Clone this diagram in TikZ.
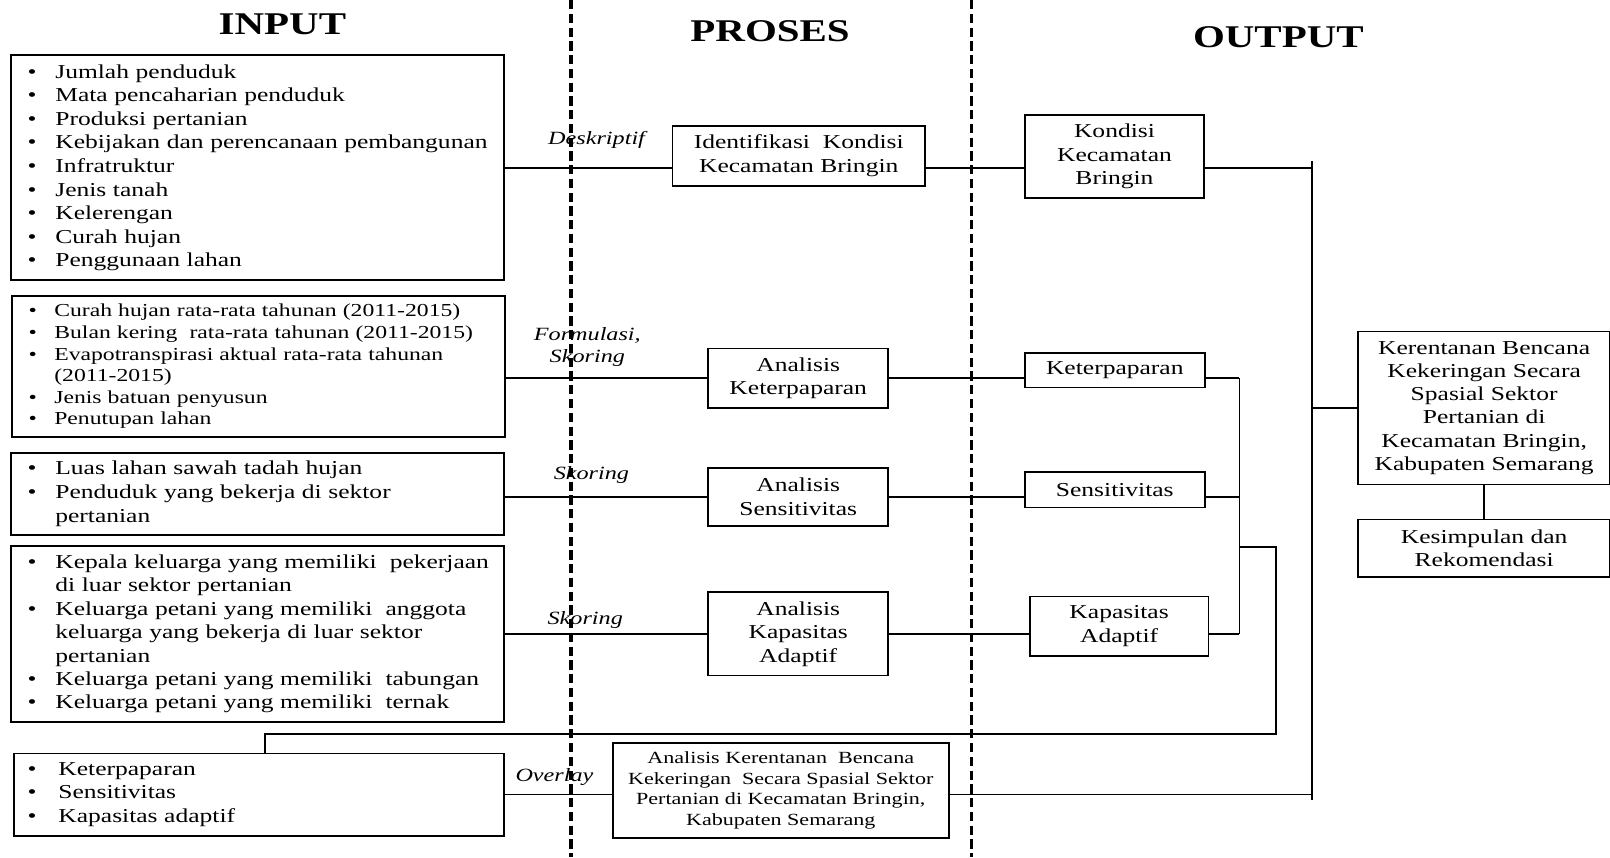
\documentclass[tikz,border=0pt]{standalone}
\usepackage{fontspec}
\setmainfont{Liberation Serif}[FakeStretch=1.295]
\newlength\bw
\newcommand\bl[1]{\mbox{\makebox[\bw][l]{\textbullet}#1}}
\newcommand\cl[1]{\mbox{\hspace*{\bw}#1}}
\begin{document}
\begin{tikzpicture}[x=0.5pt,y=-0.5pt,
  box/.style={draw, line width=0.9pt, anchor=north west, inner sep=0pt, align=center,
    font=\fontsize{9.6}{11.5}\selectfont},
  lstbox/.style={box, align=left},
  conn/.style={line width=0.8pt},
  divider/.style={line width=1.6pt, dash pattern=on 4.5pt off 2.2pt},
  title/.style={font=\fontsize{15.4}{18}\selectfont\bfseries, inner sep=0pt},
  lab/.style={font=\fontsize{9.1}{10.5}\selectfont\itshape, inner sep=0pt, align=center}]
\useasboundingbox (0,0) rectangle (1568,835);

% dividers
\coordinate (d1t) at (556,0); \coordinate (d1b) at (556,835);
\coordinate (d2t) at (946,0); \coordinate (d2b) at (946,835);
\draw[divider] (d1t) -- (d1b);
\draw[divider] (d2t) -- (d2b);

% titles
\node[title] (tin) at (275,24) {INPUT};
\node[title] (tpr) at (750,30) {PROSES};
\node[title] (tout) at (1245,36) {OUTPUT};

% input boxes
\node[lstbox, inner xsep=8pt, text width=224pt, minimum height=109.5pt,
  font=\fontsize{9.6}{11.5}\selectfont\setlength\bw{13.5pt}] (in1) at (10,53) {%
\bl{Jumlah penduduk}\\
\bl{Mata pencaharian penduduk}\\
\bl{Produksi pertanian}\\
\bl{Kebijakan dan perencanaan pembangunan}\\
\bl{Infratruktur}\\
\bl{Jenis tanah}\\
\bl{Kelerengan}\\
\bl{Curah hujan}\\
\bl{Penggunaan lahan}};

\node[lstbox, inner xsep=8pt, text width=224pt, minimum height=69pt,
  font=\fontsize{8.9}{10.5}\selectfont\setlength\bw{12.5pt}] (in2) at (11,287) {%
\bl{Curah hujan rata-rata tahunan (2011-2015)}\\
\bl{Bulan kering\ \ rata-rata tahunan (2011-2015)}\\
\bl{Evapotranspirasi aktual rata-rata tahunan}\\
\cl{(2011-2015)}\\
\bl{Jenis batuan penyusun}\\
\bl{Penutupan lahan}};

\node[lstbox, inner xsep=8pt, text width=224pt, minimum height=40pt,
  font=\fontsize{9.6}{11.5}\selectfont\setlength\bw{13.5pt}] (in3) at (10,440) {%
\bl{Luas lahan sawah tadah hujan}\\
\bl{Penduduk yang bekerja di sektor}\\
\cl{pertanian}};

\node[lstbox, inner xsep=8pt, text width=224pt, minimum height=85.5pt,
  font=\fontsize{9.6}{11.4}\selectfont\setlength\bw{13.5pt}] (in4) at (10,531) {%
\bl{Kepala keluarga yang memiliki\ \ pekerjaan}\\
\cl{di luar sektor pertanian}\\
\bl{Keluarga petani yang memiliki\ \ anggota}\\
\cl{keluarga yang bekerja di luar sektor}\\
\cl{pertanian}\\
\bl{Keluarga petani yang memiliki\ \ tabungan}\\
\bl{Keluarga petani yang memiliki\ \ ternak}};

\node[lstbox, inner xsep=6.5pt, text width=225.5pt, minimum height=40pt,
  font=\fontsize{9.6}{11.5}\selectfont\setlength\bw{15pt}] (in5) at (13,733) {%
\bl{Keterpaparan}\\
\bl{Sensitivitas}\\
\bl{Kapasitas adaptif}};

% process boxes
\node[box, minimum width=123pt, minimum height=29pt] (id) at (654,122)
  {Identifikasi\ \ Kondisi\\Kecamatan Bringin};
\node[box, minimum width=87.5pt, minimum height=29pt] (ak) at (689,338.5)
  {Analisis\\Keterpaparan};
\node[box, minimum width=87.5pt, minimum height=28pt] (as) at (689,455)
  {Analisis\\Sensitivitas};
\node[box, minimum width=87.5pt, minimum height=40.5pt] (aa) at (689,576)
  {Analisis\\Kapasitas\\Adaptif};
\node[box, minimum width=163.5pt, minimum height=46pt,
  font=\fontsize{8.3}{10}\selectfont] (ar) at (596,723)
  {Analisis Kerentanan\ \ Bencana\\Kekeringan\ \ Secara Spasial Sektor\\Pertanian di Kecamatan Bringin,\\Kabupaten Semarang};

% output boxes
\node[box, minimum width=87.5pt, minimum height=40.5pt] (kk) at (997,111)
  {\rule{0pt}{6pt}Kondisi\\Kecamatan\\Bringin};
\node[box, minimum width=87.8pt, minimum height=17pt] (kp) at (997,342.5)
  {Keterpaparan};
\node[box, minimum width=87.8pt, minimum height=17.2pt] (ks) at (997,459)
  {Sensitivitas};
\node[box, minimum width=87pt, minimum height=29pt] (kap) at (1002,580)
  {Kapasitas\\Adaptif};
\node[box, minimum width=122.5pt, minimum height=74.5pt, font=\fontsize{9.6}{11.3}\selectfont] (ker) at (1322,322)
  {Kerentanan Bencana\\Kekeringan\ Secara\\Spasial Sektor\\Pertanian di\\Kecamatan Bringin,\\Kabupaten Semarang};
\node[box, minimum width=122.5pt, minimum height=28pt] (kes) at (1322,505)
  {Kesimpulan dan\\Rekomendasi};

% connector labels
\node[lab] (l1) at (581,136) {Deskriptif};
\node[lab] (l2) at (572,338) {Formulasi,\\Skoring};
\node[lab] (l3) at (576,463) {Skoring};
\node[lab] (l4) at (570,604) {Skoring};
\node[lab] (l5) at (540,757) {Overlay};

% helper coordinates
\coordinate (bt) at (1278,157);
\coordinate (bb) at (1278,779);
\coordinate (j) at (1207,0);
\coordinate (f1) at (1207,533);
\coordinate (fb) at (1243,715);
\coordinate (fx) at (258,0);

% row 1
\draw[conn] (in1.east) -- (in1.east -| id.west);
\draw[conn] (id.east |- in1.east) -- (in1.east -| kk.west);
\draw[conn] (kk.east |- in1.east) -- (in1.east -| bt);
% bus
\draw[conn] (bt) -- (bb);
\draw[conn] (ker.west -| bt) -- (ker.west);
\draw[conn] (ker.south) -- (kes.north);
% row 2
\draw[conn] (in2.east |- ak.west) -- (ak.west);
\draw[conn] (ak.east) -- (ak.east -| kp.west);
\draw[conn] (kp.east |- ak.east) -- (ak.east -| j);
% row 3
\draw[conn] (in3.east |- as.west) -- (as.west);
\draw[conn] (as.east) -- (as.east -| ks.west);
\draw[conn] (ks.east |- as.east) -- (as.east -| j);
% row 4
\draw[conn] (in4.east |- aa.west) -- (aa.west);
\draw[conn] (aa.east) -- (aa.east -| kap.west);
\draw[conn] (kap.east |- aa.east) -- (aa.east -| j);
% collector
\draw[conn] (ak.east -| j) -- (aa.east -| j);
% feedback
\draw[conn] (f1) -| (fb) -| (in5.north -| fx);
% row 5
\draw[conn] (in5.east) -- (in5.east -| ar.west);
\draw[conn] (ar.east |- in5.east) -- (in5.east -| bt);
\end{tikzpicture}
\end{document}
